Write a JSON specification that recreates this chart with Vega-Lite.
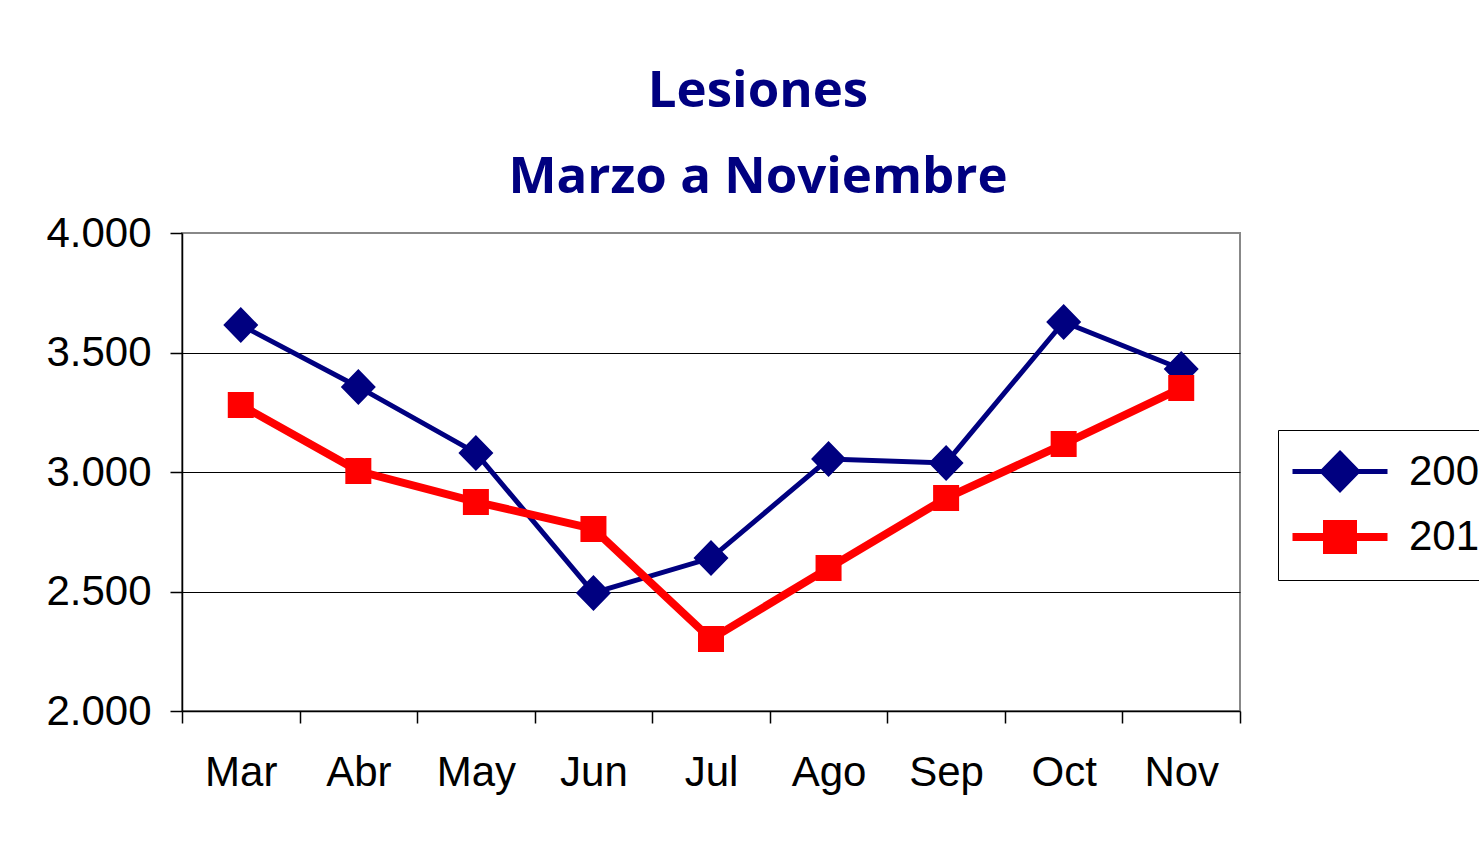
{
  "$schema": "https://vega.github.io/schema/vega-lite/v6.json",
  "width": 1058,
  "height": 478,
  "autosize": {"type": "none"},
  "padding": {"left": 182, "top": 233, "right": 239, "bottom": 135},
  "background": "white",
  "title": {
    "text": ["Lesiones", "Marzo a Noviembre"],
    "font": "Open Sans",
    "fontWeight": "bold",
    "fontSize": 51,
    "color": "#000080",
    "anchor": "middle",
    "frame": "group",
    "lineHeight": 86,
    "dx": 47,
    "offset": 8
  },
  "data": {
    "values": [
      {"mes": "Mar", "serie": "2009", "lesiones": 3615},
      {"mes": "Abr", "serie": "2009", "lesiones": 3356},
      {"mes": "May", "serie": "2009", "lesiones": 3080},
      {"mes": "Jun", "serie": "2009", "lesiones": 2494},
      {"mes": "Jul", "serie": "2009", "lesiones": 2640},
      {"mes": "Ago", "serie": "2009", "lesiones": 3054},
      {"mes": "Sep", "serie": "2009", "lesiones": 3038},
      {"mes": "Oct", "serie": "2009", "lesiones": 3628},
      {"mes": "Nov", "serie": "2009", "lesiones": 3431},
      {"mes": "Mar", "serie": "2010", "lesiones": 3280},
      {"mes": "Abr", "serie": "2010", "lesiones": 3004},
      {"mes": "May", "serie": "2010", "lesiones": 2875},
      {"mes": "Jun", "serie": "2010", "lesiones": 2762},
      {"mes": "Jul", "serie": "2010", "lesiones": 2301},
      {"mes": "Ago", "serie": "2010", "lesiones": 2598},
      {"mes": "Sep", "serie": "2010", "lesiones": 2891},
      {"mes": "Oct", "serie": "2010", "lesiones": 3117},
      {"mes": "Nov", "serie": "2010", "lesiones": 3351}
    ]
  },
  "encoding": {
    "x": {
      "field": "mes",
      "type": "nominal",
      "sort": ["Mar", "Abr", "May", "Jun", "Jul", "Ago", "Sep", "Oct", "Nov"],
      "scale": {"type": "band", "paddingInner": 0, "paddingOuter": 0},
      "axis": {
        "title": null,
        "labelAngle": 0,
        "labelFont": "Liberation Sans",
        "labelFontSize": 42,
        "labelColor": "black",
        "labelPadding": 29,
        "domainColor": "black",
        "domainWidth": 1.5,
        "tickColor": "black",
        "tickWidth": 1.5,
        "tickSize": 12,
        "tickBand": "extent",
        "grid": false
      }
    },
    "y": {
      "field": "lesiones",
      "type": "quantitative",
      "scale": {"domain": [2000, 4000], "nice": false, "zero": false},
      "axis": {
        "title": null,
        "values": [2000, 2500, 3000, 3500, 4000],
        "labelExpr": "replace(format(datum.value, ','), ',', '.')",
        "labelFont": "Liberation Sans",
        "labelFontSize": 42,
        "labelColor": "black",
        "labelPadding": 19,
        "domainColor": "black",
        "domainWidth": 1.5,
        "tickColor": "black",
        "tickWidth": 1.5,
        "tickSize": 12,
        "grid": true,
        "gridColor": {"condition": {"test": "datum.value == 4000 || datum.value == 2000", "value": "#888888"}, "value": "black"},
        "gridWidth": 1
      }
    },
    "color": {
      "field": "serie",
      "type": "nominal",
      "scale": {"domain": ["2009", "2010"], "range": ["#000080", "#FF0000"]},
      "legend": {
        "title": null,
        "orient": "none",
        "legendX": 1096,
        "legendY": 197,
        "direction": "vertical",
        "strokeColor": "black",
        "fillColor": "white",
        "padding": 14,
        "labelFont": "Liberation Sans",
        "labelFontSize": 42,
        "labelColor": "black",
        "labelOffset": 40,
        "rowPadding": 8,
        "symbolSize": 2500,
        "symbolOffset": 19,
        "symbolStrokeWidth": 7
      }
    }
  },
  "layer": [
    {
      "mark": {"type": "line", "strokeJoin": "miter"},
      "encoding": {
        "strokeWidth": {
          "field": "serie",
          "type": "nominal",
          "scale": {"domain": ["2009", "2010"], "range": [5, 8]},
          "legend": null
        }
      }
    },
    {
      "mark": {"type": "point", "filled": true, "opacity": 1, "size": 2500},
      "encoding": {
        "shape": {
          "field": "serie",
          "type": "nominal",
          "scale": {
            "domain": ["2009", "2010"],
            "range": [
              "M-1.9,0H1.9M0,-0.72L0.7,0L0,0.72L-0.7,0Z",
              "M-1.9,0H1.9M-0.52,-0.52H0.52V0.52H-0.52Z"
            ]
          },
          "legend": null
        }
      }
    }
  ],
  "config": {
    "view": {"stroke": "#888888", "strokeWidth": 2}
  }
}
